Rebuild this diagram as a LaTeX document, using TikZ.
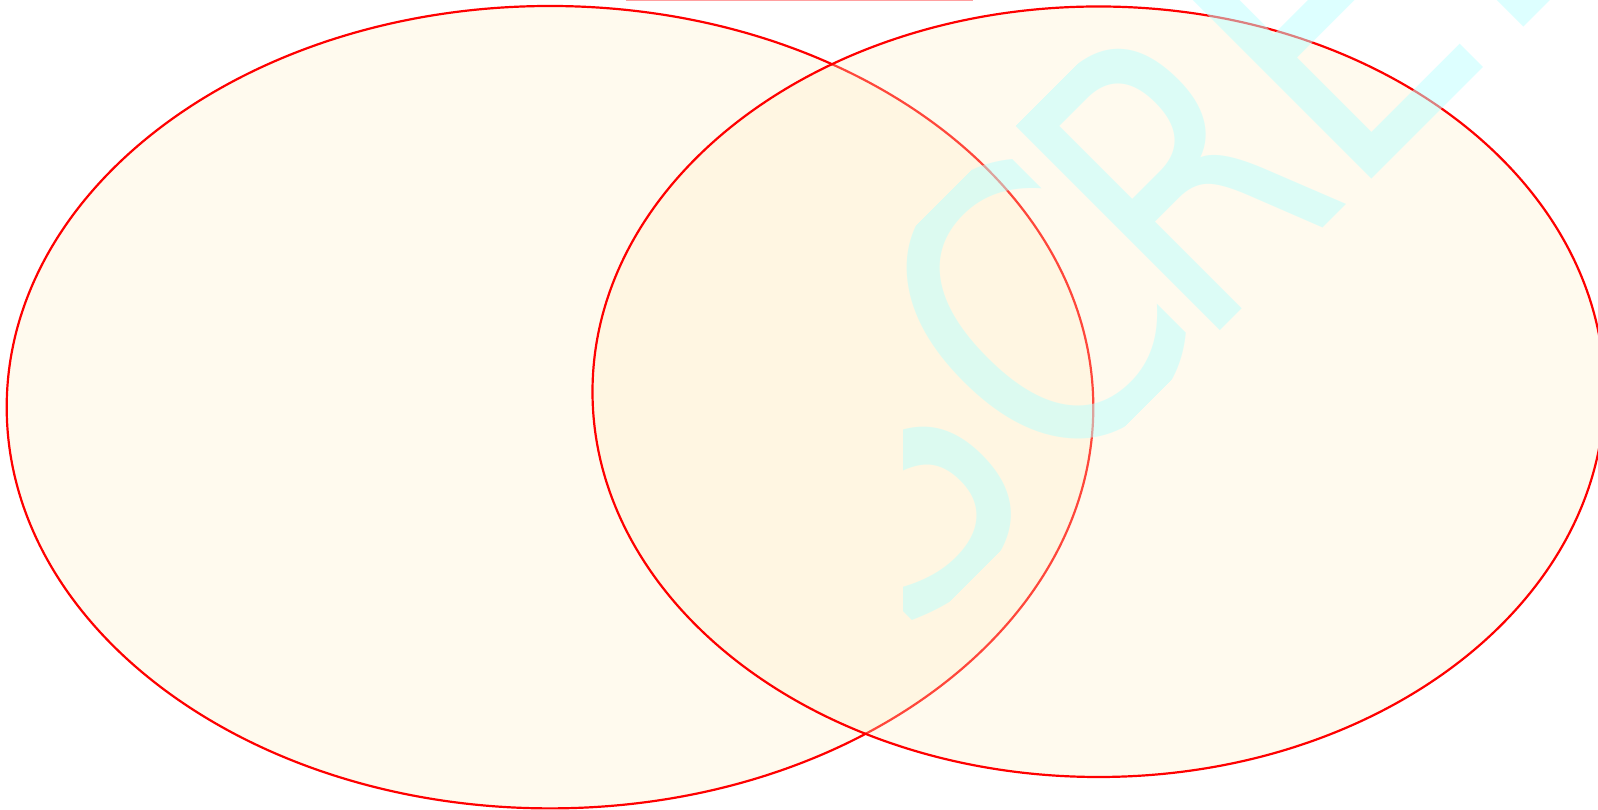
\documentclass[tikz,border=0pt]{standalone}
\usepackage{fontspec}
\usepackage{graphicx}
\newfontfamily\wmfamily{DejaVu Sans}
\definecolor{venfill}{RGB}{255,238,198}
\definecolor{venline}{RGB}{255,0,0}
\definecolor{wmcol}{RGB}{187,255,255}
\definecolor{topline}{RGB}{255,160,160}
\newcommand\wmglyph[2][0.82]{\scalebox{#1}[1]{\wmfamily\fontsize{398pt}{398pt}\selectfont #2}}
\tikzset{
  venn/.style={draw=venline, line width=2.2pt, fill=venfill, fill opacity=0.3},
  wmletter/.style={anchor=base west, inner sep=0pt, outer sep=0pt, rotate=45,
    text=wmcol, text opacity=0.5},
}
\begin{document}
\begin{tikzpicture}[x=1pt,y=1pt]
\useasboundingbox (0,0) rectangle (1598,810);
% two overlapping sets
\path[venn] (550,402.8) ellipse [x radius=543.3, y radius=401.2];
\path[venn] (1098.5,418.25) ellipse [x radius=506, y radius=385.25];
% faint line at the top edge
\coordinate (t1) at (626,809.4);
\coordinate (t2) at (973,809.4);
\draw[topline, line width=1.2pt] (t1) -- (t2);
% watermark
\begin{scope}
  \clip (903,0) rectangle (1598,810);
  \begin{scope}[shift={(1220,479.3)}, rotate=45]
    \clip (-1000,0) rectangle (1000,290);
    \node[wmletter] (wS) at (-444.8,0) {\wmglyph{S}};
    \node[wmletter] (wC) at (-235.3,0) {\wmglyph{C}};
    \node[wmletter] (wR) at (-30.8,0) {\wmglyph[0.79]{R}};
    \node[wmletter] (wE) at (181.5,0) {\wmglyph[0.845]{E}};
    \node[wmletter] (wE2) at (396.5,0) {\wmglyph[0.845]{E}};
  \end{scope}
\end{scope}
\end{tikzpicture}
\end{document}
